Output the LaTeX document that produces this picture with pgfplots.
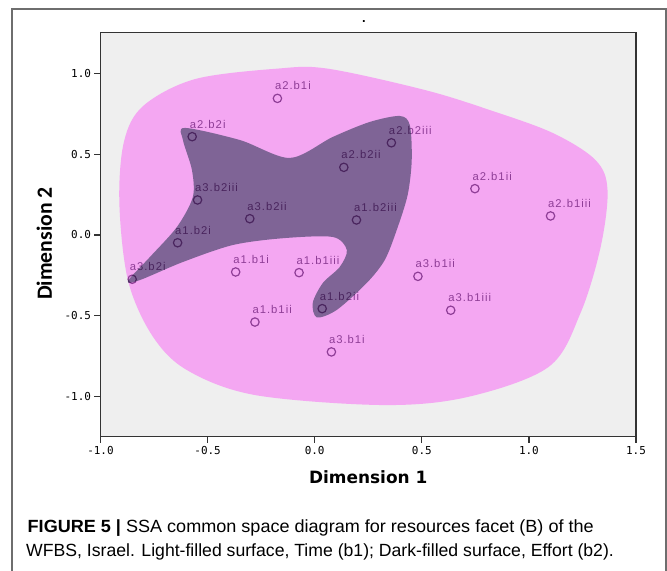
\documentclass[border=0pt]{standalone}
\usepackage{fontspec}
\setmainfont{Liberation Sans}
\newfontfamily\labfont[LetterSpace=9]{Liberation Sans}
\newfontfamily\tickfont{DejaVu Sans Mono}
\newfontfamily\dimfont{DejaVu Sans}
\newfontfamily\dimtwofont{Carlito}
\usepackage{pgfplots}
\pgfplotsset{compat=1.18}
\definecolor{bg}{RGB}{239,239,239}
\definecolor{pinkfill}{RGB}{244,167,242}
\definecolor{darkfill}{RGB}{127,100,150}
\definecolor{ptcol}{RGB}{150,96,160}
\definecolor{framecol}{RGB}{110,110,110}
\begin{document}
\begin{tikzpicture}
\path[use as bounding box] (-100.5bp,-134.3bp) rectangle (566.5bp,436.7bp);
\draw[framecol, line width=1.3bp] (-88.5bp,-140bp) -- (-88.5bp,427.7bp) -- (565.5bp,427.7bp) -- (565.5bp,-140bp);
\begin{axis}[
  scale only axis, width=535.5bp, height=404.2bp,
  xmin=-1, xmax=1.5, ymin=-1.249, ymax=1.254,
  axis background/.style={fill=bg},
  axis line style={line width=1.4bp, black!80},
  tick align=outside, major tick length=6bp,
  tick style={line width=1.2bp, black!80},
  xtick={-1,-0.5,0,0.5,1,1.5}, ytick={-1,-0.5,0,0.5,1},
  xtick pos=bottom, ytick pos=left,
  /pgf/number format/.cd, fixed, fixed zerofill, precision=1, assume math mode=true, /pgfplots/.cd,
  ticklabel style={font=\tickfont\fontsize{11}{13}\selectfont},
  title={.}, title style={at={(axis description cs:0.492,1.01)}, anchor=base, font=\tickfont\bfseries\fontsize{11}{13}\selectfont},
  xlabel={Dimension 1},
  xlabel style={at={(axis description cs:0.5,-0.1146)}, anchor=base, font=\dimfont\bfseries\fontsize{17}{20}\selectfont},
  ylabel={Dimension 2},
  ylabel style={at={(axis description cs:-0.0906,0.478)}, anchor=base, rotate=0, font=\dimtwofont\bfseries\fontsize{21.8}{24}\selectfont},
]
\addplot[fill=pinkfill, draw=none, smooth cycle, tension=0.55] coordinates {
(-0.177,1.030) (0.061,1.030) (0.514,0.898) (0.817,0.774) (1.111,0.632) (1.311,0.464) (1.367,0.279) (1.335,-0.074) (1.241,-0.483) (1.092,-0.817) (0.714,-1.003) (0.318,-1.053) (-0.279,-0.991) (-0.597,-0.836) (-0.760,-0.620) (-0.872,-0.279) (-0.912,0.200) (-0.890,0.580) (-0.800,0.800) (-0.560,0.965)
};
\addplot[fill=darkfill, draw=none, smooth cycle, tension=0.5] coordinates {
(-0.606,0.663) (-0.349,0.588) (-0.116,0.477) (0.084,0.607) (0.257,0.700) (0.397,0.737) (0.444,0.681) (0.453,0.464) (0.434,0.248) (0.383,0.031) (0.327,-0.155) (0.243,-0.297) (0.103,-0.464) (0.010,-0.510) (-0.009,-0.420) (0.038,-0.297) (0.117,-0.198) (0.150,-0.093) (0.084,-0.012) (-0.149,-0.020) (-0.382,-0.062) (-0.615,-0.167) (-0.816,-0.279) (-0.872,-0.285) (-0.769,-0.136) (-0.643,0.050) (-0.569,0.235) (-0.573,0.402) (-0.615,0.588)
};
\addplot[only marks, mark=o, mark size=4.2bp, mark options={line width=1.2bp, draw=ptcol}, blend mode=multiply,
  nodes near coords, point meta=explicit symbolic,
  every node near coord/.append style={anchor=base west, inner sep=0pt, xshift=-3bp, yshift=8.5bp, text=ptcol, blend mode=multiply, font=\labfont\fontsize{11.3}{13}\selectfont}]
table[meta=label] {
x y label
-0.174 0.846 a2.b1i
-0.572 0.609 a2.b2i
0.358 0.571 a2.b2iii
0.136 0.419 a2.b2ii
0.748 0.287 a2.b1ii
-0.547 0.217 a3.b2iii
-0.303 0.101 a3.b2ii
0.195 0.093 a1.b2iii
1.101 0.118 a2.b1iii
-0.640 -0.048 a1.b2i
-0.852 -0.274 a3.b2i
-0.369 -0.229 a1.b1i
-0.073 -0.233 a1.b1iii
0.482 -0.256 a3.b1ii
0.035 -0.456 a1.b2ii
-0.279 -0.539 a1.b1ii
0.635 -0.466 a3.b1iii
0.078 -0.724 a3.b1i
};
\end{axis}
\node[anchor=base west, inner sep=0pt] at (-73bp,-95.3bp) {\scalebox{1.024}[1]{\fontsize{17.7}{20}\selectfont\textbf{FIGURE 5 |} SSA common space diagram for resources facet (B) of the}};
\node[anchor=base west, inner sep=0pt] at (-74.5bp,-119.3bp) {\fontsize{17.7}{20}\selectfont WFBS, Israel. Light-filled surface, Time (b1); Dark-filled surface, Effort (b2).};
\end{tikzpicture}
\end{document}
